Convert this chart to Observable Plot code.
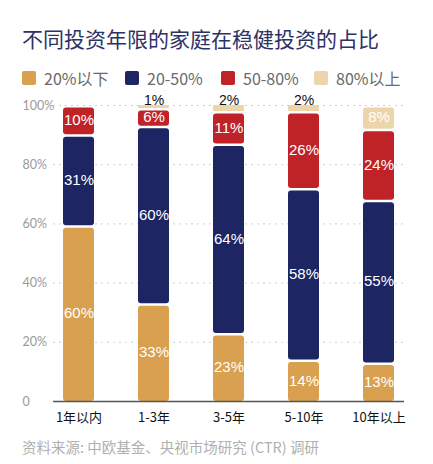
<!DOCTYPE html>
<html><head><meta charset="utf-8">
<script src="https://cdn.jsdelivr.net/npm/d3@7"></script>
<script src="https://cdn.jsdelivr.net/npm/@observablehq/plot@0.6"></script>
<style>
body{margin:0;background:#fff;font-family:"Noto Sans CJK SC","Noto Sans",sans-serif;}
#wrap{position:relative;width:433px;height:464px;overflow:hidden;}
#title{position:absolute;left:22px;top:24px;font-size:21px;color:#2E3166;white-space:nowrap;line-height:28px;}
.lg{position:absolute;top:68px;display:flex;align-items:center;font-size:16px;color:#6a6a6a;white-space:nowrap;line-height:20px;}
.sw{width:14px;height:14px;border-radius:2px;margin-right:8px;}
#chart{position:absolute;left:0;top:92px;}
#cap{position:absolute;left:22px;top:437px;font-size:14.5px;color:#b0b0b0;white-space:nowrap;line-height:20px;}
</style></head>
<body><div id="wrap">
<div id="title">不同投资年限的家庭在稳健投资的占比</div>
<div id="legend"></div>
<div id="chart"></div>
<div id="cap">资料来源: 中欧基金、央视市场研究 (CTR) 调研</div>
</div>
<script>
const categories = ["1年以内","1-3年","3-5年","5-10年","10年以上"];
const series = ["20%以下","20-50%","50-80%","80%以上"];
const colors = ["#D9A04F","#1D2563","#BF2328","#ECD5AA"];
const s20below = [60,33,23,14,13];
const s20to50 = [31,60,64,58,55];
const s50to80 = [10,6,11,26,24];
const s80above = [0,1,2,2,8];
const yTicks = [0,0.2,0.4,0.6,0.8,1];
const yTickLabels = ["0","20%","40%","60%","80%","100%"];

const seriesValues = [s20below,s20to50,s50to80,s80above];
const data = [];
series.forEach((s,si)=>categories.forEach((c,ci)=>{
  data.push({cat:c, series:s, value:seriesValues[si][ci]});
}));

const legendLefts = [22,125,221,314];
const lg = document.getElementById("legend");
series.forEach((s,i)=>{
  const d = document.createElement("div");
  d.className="lg"; d.style.left=legendLefts[i]+"px";
  d.innerHTML = `<div class="sw" style="background:${colors[i]}"></div><span>${s}</span>`;
  lg.appendChild(d);
});

const stackOpts = {x:"cat", y:"value", fill:"series", z:"series", offset:"normalize", order: series};
const textStack = {x:"cat", y:"value", z:"series", offset:"normalize", order:series, text:d=>d.value+"%", fontFamily:"'Liberation Sans', Arial, sans-serif"};

const plot = Plot.plot({
  width:433, height:340,
  marginTop:13, marginBottom:31, marginLeft:53, marginRight:29,
  x:{type:"band", domain:categories, range:[41,416], paddingInner:0.587, paddingOuter:0.2935, align:0.5, axis:null},
  y:{domain:[0,1], axis:null},
  color:{domain:series, range:colors},
  style:{fontFamily:"'Noto Sans CJK SC', sans-serif", background:"#fff"},
  marks:[
    Plot.ruleY(yTicks.slice(1), {stroke:"#cfcfcf", strokeDasharray:"2,4", strokeWidth:1}),
    Plot.text(yTicks, {y:d=>d, text:(d,i)=>yTickLabels[i], frameAnchor:"left", dx:-31, textAnchor:"start", fill:"#9a9a9a", fontSize:12.5, fontFamily:"Lato, 'Noto Sans', sans-serif"}),
    Plot.barY(data, Plot.filter(d=>d.value>=5, Plot.stackY({...stackOpts, insetTop:2.5, rx:3}))),
    Plot.barY(data, Plot.filter(d=>d.value>0 && d.value<5, Plot.stackY({...stackOpts, rx:1}))),
    Plot.text(data, Plot.filter(d=>d.value>=5, Plot.stackY({...textStack, fill:"white", fontSize:15}))),
    Plot.text(data, Plot.filter(d=>d.value>0 && d.value<5, Plot.stackY2({...textStack, fill:"#111", fontSize:14, dy:-5}))),
    Plot.ruleY([0], {stroke:"#555", strokeWidth:1.5}),
    Plot.axisX({domain:categories, tickSize:0, tickPadding:11, fontSize:13, color:"#111", fill:"#111", label:null})
  ]
});
document.getElementById("chart").appendChild(plot);
</script>
</body></html>
